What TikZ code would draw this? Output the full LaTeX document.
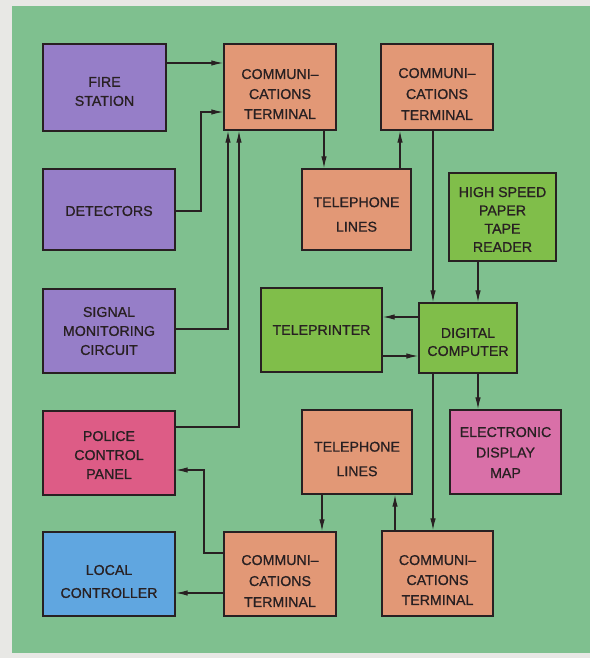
\documentclass[tikz,border=0pt]{standalone}
\usepackage{fontspec}
\setmainfont{Liberation Sans}[FakeBold=0.9]
\usetikzlibrary{arrows.meta}
\definecolor{outerbg}{RGB}{232,232,229}
\definecolor{bggreen}{RGB}{127,192,143}
\definecolor{purplebox}{RGB}{150,126,200}
\definecolor{salmonbox}{RGB}{226,152,118}
\definecolor{greenbox}{RGB}{128,190,74}
\definecolor{policepink}{RGB}{221,92,134}
\definecolor{mappink}{RGB}{217,112,168}
\definecolor{bluebox}{RGB}{96,166,224}
\definecolor{ink}{RGB}{40,32,34}
\tikzset{
  blockbox/.style={draw=ink, line width=1.4pt, rectangle, inner sep=0pt},
  lbl/.style={align=center, text=ink, inner sep=0pt, font=\fontsize{14.2}{19}\selectfont},
  widelbl/.style={lbl, font=\fontsize{14.2}{24.5}\selectfont},
  conn/.style={draw=ink, line width=1.2pt, -{Latex[length=12pt,width=5.5pt]}},
}
\begin{document}
\begin{tikzpicture}[x=1pt,y=-1pt]
\useasboundingbox (0,0) rectangle (590,658);
\fill[outerbg] (0,0) rectangle (590,658);
\fill[bggreen] (12,6) rectangle (590,653);

% boxes
\node[blockbox, fill=purplebox, minimum width=123pt, minimum height=87pt] (fire) at (104.5,87.5) {};
\node[blockbox, fill=purplebox, minimum width=132pt, minimum height=81pt] (det) at (109,209.5) {};
\node[blockbox, fill=purplebox, minimum width=132pt, minimum height=84pt] (smc) at (109,331) {};
\node[blockbox, fill=policepink, minimum width=132pt, minimum height=84pt] (pol) at (109,453) {};
\node[blockbox, fill=bluebox, minimum width=132pt, minimum height=84pt] (loc) at (109,574) {};
\node[blockbox, fill=salmonbox, minimum width=112pt, minimum height=86pt] (ct1) at (280,87) {};
\node[blockbox, fill=salmonbox, minimum width=112pt, minimum height=86pt] (ct2) at (437,87) {};
\node[blockbox, fill=salmonbox, minimum width=109pt, minimum height=81pt] (tl1) at (356.5,209.5) {};
\node[blockbox, fill=greenbox, minimum width=107pt, minimum height=88pt] (hs) at (502.5,217) {};
\node[blockbox, fill=greenbox, minimum width=121pt, minimum height=84pt] (tp) at (321.5,330) {};
\node[blockbox, fill=greenbox, minimum width=98pt, minimum height=70pt] (dc) at (468,338) {};
\node[blockbox, fill=salmonbox, minimum width=110pt, minimum height=84pt] (tl2) at (357,452) {};
\node[blockbox, fill=mappink, minimum width=111pt, minimum height=84pt] (edm) at (505.5,452) {};
\node[blockbox, fill=salmonbox, minimum width=112pt, minimum height=84pt] (ct3) at (280,574) {};
\node[blockbox, fill=salmonbox, minimum width=111pt, minimum height=85pt] (ct4) at (437.5,573.5) {};

% labels
\node[lbl] (fireT) at (104.5,91.5) {FIRE\\STATION};
\node[lbl] (detT) at (109,211) {DETECTORS};
\node[lbl] (smcT) at (109,331) {SIGNAL\\MONITORING\\CIRCUIT};
\node[lbl] (polT) at (109,455) {POLICE\\CONTROL\\PANEL};
\node[lbl, font=\fontsize{14.2}{23}\selectfont] (locT) at (109,581.5) {LOCAL\\CONTROLLER};
\node[lbl, font=\fontsize{14.2}{20}\selectfont] (ct1T) at (280,94) {COMMUNI–\\CATIONS\\TERMINAL};
\node[lbl, font=\fontsize{14.2}{21}\selectfont] (ct2T) at (437,94) {COMMUNI–\\CATIONS\\TERMINAL};
\node[widelbl] (tl1T) at (356.5,214.5) {TELEPHONE\\LINES};
\node[lbl, font=\fontsize{14.2}{18.3}\selectfont] (hsT) at (502.5,219.5) {HIGH SPEED\\PAPER\\TAPE\\READER};
\node[lbl] (tpT) at (321.5,330) {TELEPRINTER};
\node[lbl, font=\fontsize{14.2}{18}\selectfont] (dcT) at (468,342) {DIGITAL\\COMPUTER};
\node[widelbl] (tl2T) at (357,459) {TELEPHONE\\LINES};
\node[lbl, font=\fontsize{14.2}{20.5}\selectfont] (edmT) at (505.5,452.5) {ELECTRONIC\\DISPLAY\\MAP};
\node[lbl, font=\fontsize{14.2}{21}\selectfont] (ct3T) at (280,581) {COMMUNI–\\CATIONS\\TERMINAL};
\node[lbl, font=\fontsize{14.2}{20}\selectfont] (ct4T) at (437.5,580) {COMMUNI–\\CATIONS\\TERMINAL};

% connectors
\draw[conn] (fire.east |- 0,63) -- (ct1.west |- 0,63);
\draw[conn] (det.east |- 0,211) -| (201,112) -- (ct1.west |- 0,112);
\draw[conn] (smc.east |- 0,329) -| (228,0 |- ct1.south);
\draw[conn] (pol.east |- 0,427) -| (239,0 |- ct1.south);
\draw[conn] (ct1.south -| 324,0) -- (tl1.north -| 324,0);
\draw[conn] (tl1.north -| 400,0) -- (ct2.south -| 400,0);
\draw[conn] (ct2.south -| 433,0) -- (dc.north -| 433,0);
\draw[conn] (hs.south -| 478,0) -- (dc.north -| 478,0);
\draw[conn] (dc.west |- 0,317) -- (tp.east |- 0,317);
\draw[conn] (tp.east |- 0,356) -- (dc.west |- 0,356);
\draw[conn] (dc.south -| 478,0) -- (edm.north -| 478,0);
\draw[conn] (dc.south -| 433,0) -- (ct4.north -| 433,0);
\draw[conn] (tl2.south -| 322,0) -- (ct3.north -| 322,0);
\draw[conn] (ct4.north -| 395,0) -- (tl2.south -| 395,0);
\draw[conn] (ct3.west |- 0,553) -| (204,470) -- (pol.east |- 0,470);
\draw[conn] (ct3.west |- 0,593) -- (loc.east |- 0,593);
\end{tikzpicture}
\end{document}
